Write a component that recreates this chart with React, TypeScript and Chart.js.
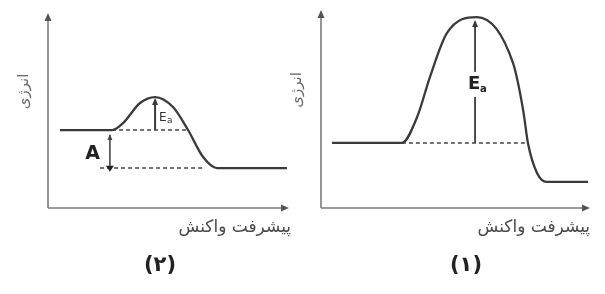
import { useEffect, useRef } from "react";
import { Chart, registerables } from "chart.js";

Chart.register(...registerables);

const FONT = '"DejaVu Sans", sans-serif';
const xTitle = "پیشرفت واکنش";
const yTitle = "انرژی";
const panelLabels = ["(۲)", "(۱)"];

// Panel (۲) – left: reaction progress (0–100) vs energy (0–100)
const progress2 = [5, 26.8, 31.4, 38.5, 44.8, 52.3, 58.6, 64.9, 70.7, 100];
const energy2 = [40.4, 40.4, 44, 54.4, 57.5, 52.3, 40.4, 26.4, 20.7, 20.7];
const reactant2 = 40.4;
const product2 = 20.7;
const reactantDash2 = [26.8, 58.4];
const productDash2 = [21.8, 64.9];
const eaArrow2 = [44.8, 40.4, 56];
const aArrow2 = [25.9, 37.8, 19.8];

// Panel (۱) – right
const progress1 = [4.1, 30.3, 36.0, 40.8, 47.2, 58.4, 71.9, 75.7, 77.5, 80.9, 84.6, 100];
const energy1 = [33.2, 33.2, 46.4, 66.8, 89.3, 97.4, 74.0, 50.0, 33.2, 17.9, 13.3, 13.3];
const reactant1 = 33.2;
const reactantDash1 = [30.3, 77.5];
const eaArrow1 = [57.7, 33.2, 94.9];

const CURVE = "#3a3a3a";
const AXIS = "#7c7c7c";

function pts(xs: number[], ys: number[]) {
  return xs.map((x, i) => ({ x, y: ys[i] }));
}

function head(ctx: CanvasRenderingContext2D, x: number, y: number, dx: number, dy: number, len: number, half: number, color: string) {
  ctx.save();
  ctx.fillStyle = color;
  ctx.beginPath();
  ctx.moveTo(x, y);
  ctx.lineTo(x - dx * len - dy * half, y - dy * len + dx * half);
  ctx.lineTo(x - dx * len + dy * half, y - dy * len - dx * half);
  ctx.closePath();
  ctx.fill();
  ctx.restore();
}

type Panel = {
  label: string;
  labelOffset: number;
  titleShift: number;
  big: boolean;
  datasets: any[];
  ea: number[];
  a?: number[];
  padding: { left: number; top: number; right: number; bottom: number };
  width: number;
  left: number;
};

function makePlugin(p: Panel) {
  return {
    id: "decor",
    beforeDatasetsDraw(chart: any) {
      const ctx: CanvasRenderingContext2D = chart.ctx;
      const { left, right, top, bottom } = chart.chartArea;
      ctx.save();
      ctx.strokeStyle = AXIS;
      ctx.lineWidth = 1.6;
      ctx.beginPath();
      ctx.moveTo(left, bottom);
      ctx.lineTo(left, top + 4);
      ctx.moveTo(left, bottom);
      ctx.lineTo(right - 4, bottom);
      ctx.stroke();
      head(ctx, left, top - 2, 0, -1, 8, 3.5, "#555");
      head(ctx, right + 2, bottom, 1, 0, 8, 3.5, "#555");

      // axis titles
      ctx.fillStyle = "#4a4a4a";
      ctx.font = `17px ${FONT}`;
      ctx.textAlign = "right";
      ctx.textBaseline = "middle";
      ctx.fillText(xTitle, right + p.titleShift, bottom + 20);
      ctx.save();
      ctx.translate(left - 24, (top + bottom) / 2 - 20);
      ctx.rotate(-Math.PI / 2);
      ctx.textAlign = "center";
      ctx.font = `15px ${FONT}`;
      ctx.fillStyle = "#6a6a6a";
      ctx.fillText(yTitle, 0, 0);
      ctx.restore();

      // panel label
      ctx.fillStyle = "#222";
      ctx.font = `bold 21px ${FONT}`;
      ctx.textAlign = "center";
      ctx.fillText(p.label, left + p.labelOffset, 266);
      ctx.restore();
    },
    afterDatasetsDraw(chart: any) {
      const ctx: CanvasRenderingContext2D = chart.ctx;
      const xs = chart.scales.x;
      const ys = chart.scales.y;
      ctx.save();
      const ex = xs.getPixelForValue(p.ea[0]);
      const et = ys.getPixelForValue(p.ea[2]);
      const eb = ys.getPixelForValue(p.ea[1]);
      head(ctx, ex, et - 2, 0, -1, 7, 3, CURVE);
      if (p.big) {
        const cy = et + (eb - et) * 0.52;
        ctx.fillStyle = "#fff";
        ctx.fillRect(ex - 8, cy - 13, 18, 25);
        ctx.fillStyle = "#222";
        ctx.font = `bold 18px ${FONT}`;
        ctx.textAlign = "left";
        ctx.textBaseline = "middle";
        ctx.fillText("E", ex - 7, cy - 1);
        ctx.font = `bold 10px ${FONT}`;
        ctx.fillText("a", ex + 5, cy + 5);
      } else {
        ctx.fillStyle = "#333";
        ctx.font = `12px ${FONT}`;
        ctx.textAlign = "left";
        ctx.textBaseline = "middle";
        ctx.fillText("E", ex + 4, et + 18);
        ctx.font = `9px ${FONT}`;
        ctx.fillText("a", ex + 12, et + 21);
      }
      if (p.a) {
        const ax = xs.getPixelForValue(p.a[0]);
        const at = ys.getPixelForValue(p.a[1]);
        const ab = ys.getPixelForValue(p.a[2]);
        head(ctx, ax, at - 1, 0, -1, 6, 2.5, "#444");
        head(ctx, ax, ab + 2, 0, 1, 6, 4, "#222");
        ctx.fillStyle = "#222";
        ctx.font = `bold 19px ${FONT}`;
        ctx.textAlign = "right";
        ctx.textBaseline = "middle";
        ctx.fillText("A", ax - 10, (at + ab) / 2 + 2);
      }
      ctx.restore();
    },
  };
}

function line(data: any[], width: number, dash: number[] = [], color = CURVE) {
  return {
    data,
    borderColor: color,
    borderWidth: width,
    borderDash: dash,
    pointRadius: 0,
    fill: false,
    tension: 0,
    clip: false,
  };
}

const panels: Panel[] = [
  {
    label: panelLabels[0],
    labelOffset: 112,
    titleShift: 4,
    big: false,
    ea: eaArrow2,
    a: aArrow2,
    padding: { left: 48, top: 15, right: 13, bottom: 86 },
    width: 300,
    left: 0,
    datasets: [
      { ...line(pts(progress2, energy2), 2.3), cubicInterpolationMode: "monotone" },
      line([{ x: reactantDash2[0], y: reactant2 }, { x: reactantDash2[1], y: reactant2 }], 1.6, [4, 3], "#444"),
      line([{ x: productDash2[0], y: product2 }, { x: productDash2[1], y: product2 }], 1.6, [4, 3], "#444"),
      line([{ x: eaArrow2[0], y: eaArrow2[1] }, { x: eaArrow2[0], y: eaArrow2[2] }], 2),
      line([{ x: aArrow2[0], y: aArrow2[1] }, { x: aArrow2[0], y: aArrow2[2] }], 1, [], "#555"),
    ],
  },
  {
    label: panelLabels[1],
    labelOffset: 145,
    titleShift: 2,
    big: true,
    ea: eaArrow1,
    padding: { left: 41, top: 12, right: 17, bottom: 86 },
    width: 325,
    left: 280,
    datasets: [
      { ...line(pts(progress1, energy1), 2.3), cubicInterpolationMode: "monotone" },
      line([{ x: reactantDash1[0], y: reactant1 }, { x: reactantDash1[1], y: reactant1 }], 1.6, [4, 3], "#444"),
      line([{ x: eaArrow1[0], y: eaArrow1[1] }, { x: eaArrow1[0], y: eaArrow1[2] }], 1.8),
    ],
  },
];

function PanelChart({ p }: { p: Panel }) {
  const ref = useRef<HTMLCanvasElement>(null);
  useEffect(() => {
    if (!ref.current) return;
    const chart = new Chart(ref.current, {
      type: "line",
      data: { datasets: p.datasets },
      options: {
        animation: false,
        responsive: false,
        devicePixelRatio: 1,
        layout: { padding: p.padding },
        scales: {
          x: { type: "linear", min: 0, max: 100, display: false },
          y: { type: "linear", min: 0, max: 100, display: false },
        },
        plugins: { legend: { display: false }, tooltip: { enabled: false }, title: { display: false } },
        events: [],
      },
      plugins: [makePlugin(p) as any],
    });
    return () => chart.destroy();
  }, [p]);
  return (
    <canvas
      ref={ref}
      width={p.width}
      height={294}
      style={{ position: "absolute", left: p.left, top: 0, width: p.width, height: 294 }}
    />
  );
}

export default function App() {
  return (
    <div style={{ position: "fixed", left: 0, top: 0, width: 605, height: 294, background: "#fff", overflow: "hidden" }}>
      {panels.map((p, i) => (
        <PanelChart key={i} p={p} />
      ))}
    </div>
  );
}
